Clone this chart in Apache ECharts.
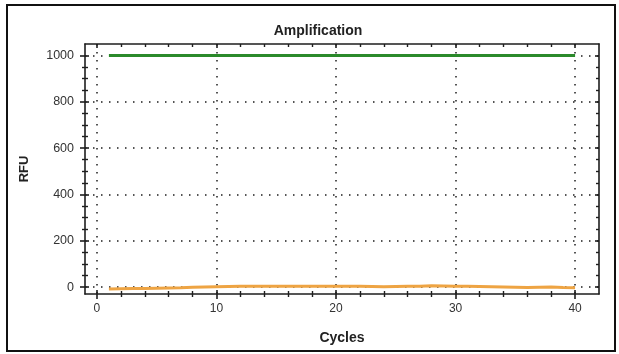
<!DOCTYPE html>
<html>
<head>
<meta charset="utf-8">
<script src="https://cdn.jsdelivr.net/npm/echarts@6/dist/echarts.min.js"></script>
<style>
  html, body { margin: 0; padding: 0; background: #fff; }
  #chart { width: 619px; height: 354px; }
</style>
</head>
<body>
<div id="chart"></div>
<script>
// Amplification curves: RFU per PCR cycle
const cycles = [1,2,3,4,5,6,7,8,9,10,11,12,13,14,15,16,17,18,19,20,
                21,22,23,24,25,26,27,28,29,30,31,32,33,34,35,36,37,38,39,40];
const greenRFU = [1000,1000,1000,1000,1000,1000,1000,1000,1000,1000,
                  1000,1000,1000,1000,1000,1000,1000,1000,1000,1000,
                  1000,1000,1000,1000,1000,1000,1000,1000,1000,1000,
                  1000,1000,1000,1000,1000,1000,1000,1000,1000,1000];
const orangeRFU = [-8,-7,-6,-6,-5,-4,-3,-1,0,1,
                   2,3,3,3,4,3,3,4,4,3,
                   4,3,2,1,2,3,4,6,5,4,
                   3,2,1,0,-1,-2,-1,0,-2,-3];
const xTicks = [0, 10, 20, 30, 40];
const yTicks = [0, 200, 400, 600, 800, 1000];
const xRange = [-1, 42];
const yRange = [-30, 1050];

const ink = '#1e1e1e';
const font = 'Liberation Sans, Arial, sans-serif';
const dotted = { show: true, lineStyle: { color: ink, width: 1.5, type: [1.5, 6.5] } };

function xAxisDef(position, inside, main) {
  return {
    type: 'value', position: position, min: xRange[0], max: xRange[1], splitNumber: 5,
    axisLine: { show: main || position === 'top', onZero: false, lineStyle: { color: ink, width: 1.6 } },
    axisTick: { show: true, inside: inside, length: inside ? 4 : 5, customValues: xTicks,
                lineStyle: { color: ink, width: 1.6 } },
    minorTick: { show: true, splitNumber: 5, length: 3, lineStyle: { color: ink, width: 1.4 } },
    axisLabel: { show: main, customValues: xTicks, margin: 9, fontSize: 12, color: '#333',
                 fontFamily: font, formatter: v => String(v) },
    splitLine: main ? dotted : { show: false },
    name: main ? 'Cycles' : '', nameLocation: 'middle', nameGap: 37,
    nameTextStyle: { fontSize: 14, fontWeight: 'bold', color: '#222', fontFamily: font }
  };
}
function yAxisDef(position, inside, main) {
  return {
    type: 'value', position: position, min: yRange[0], max: yRange[1], splitNumber: 5,
    axisLine: { show: main || position === 'right', onZero: false, lineStyle: { color: ink, width: 1.6 } },
    axisTick: { show: true, inside: inside, length: inside ? 4 : 5, customValues: yTicks,
                lineStyle: { color: ink, width: 1.6 } },
    minorTick: { show: true, splitNumber: 4, length: 3, lineStyle: { color: ink, width: 1.4 } },
    axisLabel: { show: main, customValues: yTicks, margin: 11, fontSize: 12.5, color: '#333',
                 fontFamily: font, formatter: v => String(v) },
    splitLine: main ? dotted : { show: false },
    name: main ? 'RFU' : '', nameLocation: 'middle', nameGap: 54,
    nameTextStyle: { fontSize: 13, fontWeight: 'bold', color: '#222', fontFamily: font }
  };
}

const chart = echarts.init(document.getElementById('chart'), null, { renderer: 'canvas' });
chart.setOption({
  backgroundColor: '#fff',
  animation: false,
  title: {
    text: 'Amplification', left: 313, top: 19, textAlign: 'center',
    textStyle: { fontSize: 14, fontWeight: 'bold', color: '#222', fontFamily: font }
  },
  graphic: [{
    type: 'rect', silent: true,
    shape: { x: 7, y: 5, width: 608, height: 346 },
    style: { fill: null, stroke: '#111', lineWidth: 2 }
  }],
  grid: { left: 85, right: 20, top: 44, bottom: 60 },
  xAxis: [xAxisDef('bottom', false, true), xAxisDef('bottom', true, false), xAxisDef('top', true, false)],
  yAxis: [yAxisDef('left', false, true), yAxisDef('left', true, false), yAxisDef('right', true, false)],
  series: [
    {
      type: 'line', xAxisIndex: 0, yAxisIndex: 0, showSymbol: false,
      data: cycles.map((c, i) => [c, greenRFU[i]]),
      lineStyle: { color: '#2b8a2b', width: 3 }
    },
    {
      type: 'line', xAxisIndex: 0, yAxisIndex: 0, showSymbol: false,
      data: cycles.map((c, i) => [c, orangeRFU[i]]),
      lineStyle: { color: '#eea443', width: 3 }
    }
  ]
});
</script>
</body>
</html>
